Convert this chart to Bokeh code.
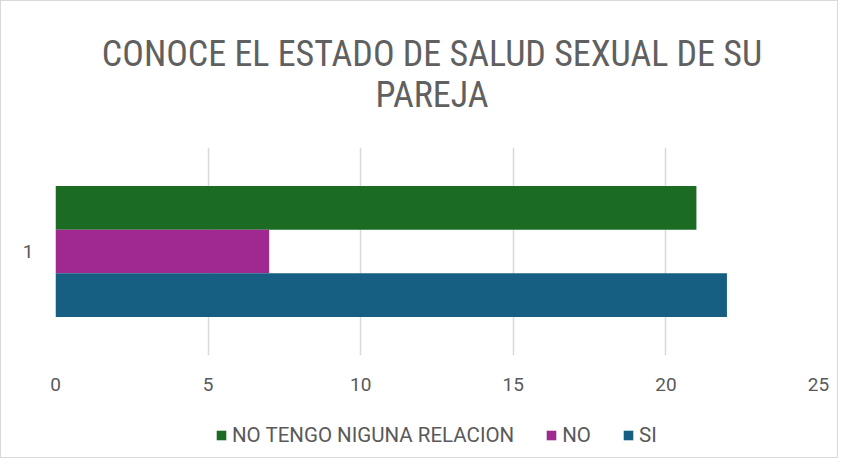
from bokeh.plotting import figure
from bokeh.layouts import column
from bokeh.models import FactorRange, Range1d, Legend, LegendItem, FixedTicker
from bokeh.core.properties import value
from bokeh.transform import dodge
from bokeh.embed import file_html
from bokeh.resources import INLINE

title_lines = ["CONOCE EL ESTADO DE SALUD SEXUAL DE SU", "PAREJA"]
category = ["1"]
series_names = ["NO TENGO NIGUNA RELACION", "NO", "SI"]
series_values = [21, 7, 22]
series_colors = ["#1b6b23", "#a0298f", "#165f82"]
x_ticks = [0, 5, 10, 15, 20, 25]

FONT = "'Liberation Sans Narrow', 'Roboto Condensed', 'Liberation Sans', sans-serif"
GREY = "#595959"
W = 836

# ---- title strip (pixel-mapped ranges) ----
tf = figure(width=W, height=120, output_backend="svg", toolbar_location=None,
            title_location=None, x_range=Range1d(55, 817), y_range=Range1d(120, 0),
            min_border_left=0, min_border_right=0, min_border_top=0, min_border_bottom=0)
tf.axis.visible = False
tf.grid.grid_line_color = None
tf.outline_line_color = None
tf.text(x=[431, 431], y=[52, 93], text=title_lines, text_align="center",
        text_baseline="middle", text_font=value(FONT), text_font_size="36px",
        text_color="#606060")

# ---- main chart ----
p = figure(width=W, height=290, output_backend="svg", toolbar_location=None,
           title_location=None,
           y_range=FactorRange(*category, range_padding=0), x_range=Range1d(0, 25),
           min_border_left=54, min_border_right=19, min_border_top=26, min_border_bottom=56)
p.outline_line_color = None

offsets = [0.21, 0.0, -0.21]
for name, val, col, off in zip(series_names, series_values, series_colors, offsets):
    p.hbar(y=dodge("y", off, range=p.y_range), right="v", left=0, height=0.21,
           source={"y": category, "v": [val]}, color=col, line_color=None)

p.xaxis.ticker = FixedTicker(ticks=x_ticks)
p.xaxis.axis_line_color = None
p.xaxis.major_tick_line_color = None
p.xaxis.minor_tick_line_color = None
p.xaxis.major_label_standoff = 16
p.xaxis.major_label_text_font_size = "19px"
p.xaxis.major_label_text_color = GREY
p.xaxis.major_label_text_font = "Roboto"

p.yaxis.axis_line_color = None
p.yaxis.major_tick_line_color = None
p.yaxis.major_label_standoff = 16
p.yaxis.major_label_text_font_size = "19px"
p.yaxis.major_label_text_color = GREY
p.yaxis.major_label_text_font = "Roboto"

p.xgrid.grid_line_color = "#d9d9d9"
p.xgrid.grid_line_width = 1.5
p.ygrid.grid_line_color = None

# ---- legend strip ----
lg = figure(width=W, height=46, output_backend="svg", toolbar_location=None,
            title_location=None, x_range=Range1d(0, 25), y_range=FactorRange(*category),
            min_border_left=0, min_border_right=0, min_border_top=0, min_border_bottom=0)
lg.axis.visible = False
lg.grid.grid_line_color = None
lg.outline_line_color = None
items = []
for name, val, col in zip(series_names, series_values, series_colors):
    r = lg.hbar(y="y", right="v", left=0, height=0.2,
                source={"y": category, "v": [val]}, color=col, line_color=None)
    r.visible = False
    items.append(LegendItem(label=name, renderers=[r]))

legend = Legend(items=items, orientation="horizontal", location=(160, 10),
                border_line_color=None, background_fill_alpha=0,
                inactive_fill_alpha=0,
                glyph_width=12, glyph_height=12, label_standoff=5, spacing=31,
                padding=0, margin=0,
                label_text_font="Roboto", label_text_font_size="20.5px", label_text_color=GREY)
lg.add_layout(legend, "center")

layout = column(tf, p, lg, spacing=0)
layout.styles = {"border": "1px solid #d9d9d9"}

open("out.html", "w").write(file_html(layout, INLINE))
